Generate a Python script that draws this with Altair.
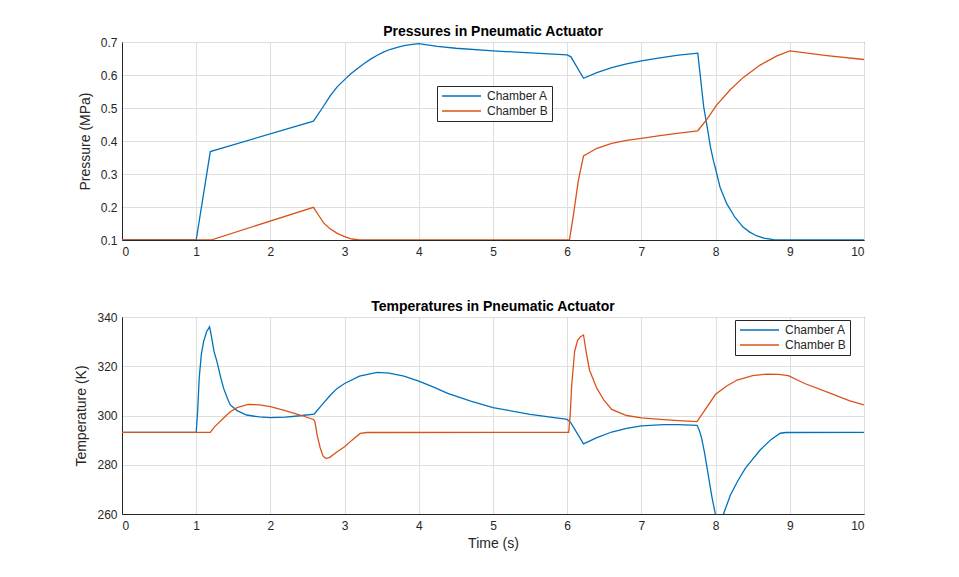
import altair as alt
import pandas as pd

# ---------------- data ----------------
series_names = ["Chamber A", "Chamber B"]

pa_t = [0, 1.0, 1.19, 2.58, 2.70, 2.81, 2.90, 3.0, 3.08, 3.17, 3.26, 3.35, 3.44, 3.53, 3.62,
        3.71, 3.80, 3.89, 4.0, 4.25, 4.5, 5.0, 5.5, 6.0, 6.05, 6.22, 6.4, 6.6, 6.8, 7.0, 7.25,
        7.5, 7.76, 7.79, 7.84, 7.89, 7.93, 7.97, 8.01, 8.06, 8.15, 8.26, 8.37, 8.46, 8.55, 8.65,
        8.78, 10]
pa_v = [0.1, 0.1, 0.368, 0.460, 0.500, 0.538, 0.564, 0.586, 0.603, 0.619, 0.634, 0.648, 0.660,
        0.670, 0.678, 0.684, 0.689, 0.692, 0.695, 0.687, 0.681, 0.673, 0.667, 0.661, 0.655,
        0.590, 0.607, 0.622, 0.634, 0.643, 0.652, 0.660, 0.666, 0.605, 0.503, 0.438, 0.382,
        0.341, 0.306, 0.260, 0.210, 0.169, 0.139, 0.124, 0.113, 0.106, 0.101, 0.1]

pb_t = [0, 1.2, 2.58, 2.65, 2.72, 2.8, 2.9, 3.0, 3.1, 3.2, 6.03, 6.08, 6.15, 6.22, 6.4, 6.6,
        6.8, 7.0, 7.25, 7.48, 7.76, 7.89, 8.01, 8.2, 8.37, 8.6, 8.82, 9.0, 9.5, 10]
pb_v = [0.1, 0.1, 0.199, 0.175, 0.151, 0.135, 0.120, 0.110, 0.103, 0.1, 0.1, 0.17, 0.28, 0.355,
        0.378, 0.393, 0.402, 0.408, 0.416, 0.423, 0.431, 0.468, 0.508, 0.556, 0.592, 0.630,
        0.657, 0.673, 0.659, 0.647]

ta_t = [0, 1.0, 1.02, 1.04, 1.07, 1.1, 1.14, 1.18, 1.2, 1.24, 1.28, 1.33, 1.37, 1.42, 1.46,
        1.55, 1.68, 1.85, 2.0, 2.2, 2.4, 2.59, 2.7, 2.81, 2.9, 3.0, 3.2, 3.44, 3.6, 3.8, 4.0,
        4.2, 4.39, 4.7, 5.0, 5.5, 6.0, 6.05, 6.22, 6.4, 6.6, 6.8, 7.0, 7.3, 7.5, 7.75, 7.78,
        7.81, 7.85, 7.9, 7.95, 8.0, 8.05, 8.1, 8.2, 8.3, 8.4, 8.47, 8.6, 8.75, 8.87, 8.95, 10]
ta_v = [293.15, 293.15, 302, 315, 325, 330, 334, 336, 333, 326, 321.9, 315.5, 311, 307, 304.3,
        302, 300.2, 299.4, 299.1, 299.3, 299.9, 300.6, 304.5, 308.3, 311, 313, 316, 317.5,
        317.2, 316, 314, 311.5, 309, 305.8, 303.2, 300.5, 298.4, 297, 288.5, 291, 293.3,
        294.8, 295.8, 296.3, 296.3, 296, 294, 291, 285, 276, 267, 259.5, 258.5, 259.5, 267.7,
        273.5, 278.5, 281.2, 286, 290.3, 292.8, 293.1, 293.15]

tb_t = [0, 1.19, 1.25, 1.37, 1.46, 1.55, 1.7, 1.85, 2.0, 2.2, 2.4, 2.58, 2.6, 2.63, 2.67, 2.71,
        2.75, 2.8, 2.9, 3.0, 3.1, 3.21, 3.3, 6.02, 6.04, 6.06, 6.1, 6.14, 6.18, 6.22, 6.26, 6.3,
        6.4, 6.5, 6.6, 6.8, 7.0, 7.3, 7.5, 7.75, 7.85, 8.0, 8.15, 8.29, 8.5, 8.69, 8.85, 8.98,
        9.2, 9.55, 9.8, 10]
tb_v = [293.15, 293.15, 295.5, 299, 301.5, 303.2, 304.5, 304.3, 303.6, 302, 300.2, 298.4,
        297.5, 292, 287, 283.5, 282.5, 283, 285.3, 287.3, 290, 292.7, 293.1, 293.15, 300, 312,
        326, 330.5, 332, 332.7, 325, 318.5, 311, 306, 302.5, 300, 299, 298.3, 297.9, 297.5,
        302, 308.6, 312, 314.4, 316.2, 316.8, 316.7, 316.2, 313, 309, 306, 304.3]

x_ticks = list(range(0, 11))
p_ticks = [0.1, 0.2, 0.3, 0.4, 0.5, 0.6, 0.7]
t_ticks = [260, 280, 300, 320, 340]


def long_df(ta, va, tb, vb, name):
    return pd.concat([
        pd.DataFrame({"t": ta, name: va, "series": series_names[0], "order": range(len(ta))}),
        pd.DataFrame({"t": tb, name: vb, "series": series_names[1], "order": range(len(tb))}),
    ])


pdf = long_df(pa_t, pa_v, pb_t, pb_v, "p")
tdf = long_df(ta_t, ta_v, tb_t, tb_v, "T")

FONT = "Liberation Sans"
color_scale = alt.Scale(domain=series_names, range=["#0072BD", "#D95319"])


def legend(x, y):
    return alt.Legend(title=None, orient="none", legendX=x, legendY=y,
                      fillColor="white", strokeColor="#262626", padding=4,
                      symbolType="M-3.9,0H3.9", symbolSize=100, symbolStrokeWidth=1.5,
                      symbolOffset=14.5, labelOffset=19.5,
                      labelFont=FONT, labelFontSize=12, labelColor="#262626",
                      rowPadding=3)


def xaxis(title):
    kw = dict(values=x_ticks, grid=True, ticks=False, labelPadding=6, format="d")
    if title:
        return alt.Axis(title=title, titlePadding=5, **kw)
    return alt.Axis(title=None, **kw)


def title(text):
    return alt.TitleParams(text, fontSize=14, fontWeight="bold", font=FONT, color="#000000",
                           offset=-3)


top = alt.Chart(pdf).mark_line(clip=True, strokeWidth=1.3).encode(
    x=alt.X("t:Q", scale=alt.Scale(domain=[0, 10], nice=False), axis=xaxis(None)),
    y=alt.Y("p:Q", scale=alt.Scale(domain=[0.1, 0.7], nice=False, zero=False),
            axis=alt.Axis(title="Pressure (MPa)", values=p_ticks, format=".1f", ticks=False,
                          labelPadding=5, titlePadding=8)),
    color=alt.Color("series:N", scale=color_scale, legend=legend(315, 44)),
    order="order:Q",
).properties(width=742, height=198, title=title("Pressures in Pneumatic Actuator"))

bottom = alt.Chart(tdf).mark_line(clip=True, strokeWidth=1.3).encode(
    x=alt.X("t:Q", scale=alt.Scale(domain=[0, 10], nice=False), axis=xaxis("Time (s)")),
    y=alt.Y("T:Q", scale=alt.Scale(domain=[260, 340], nice=False, zero=False),
            axis=alt.Axis(title="Temperature (K)", values=t_ticks, ticks=False,
                          labelPadding=5, titlePadding=8)),
    color=alt.Color("series:N", scale=color_scale, legend=legend(613, 3)),
    order="order:Q",
).properties(width=742, height=197, title=title("Temperatures in Pneumatic Actuator"))

chart = alt.vconcat(top, bottom, spacing=41).resolve_scale(color="independent").resolve_legend(
    color="independent"
).configure_view(stroke="#262626", strokeWidth=1).configure_axis(
    labelFont=FONT, labelFontSize=12, labelColor="#262626", titleFont=FONT, titleFontSize=14,
    titleFontWeight="normal", titleColor="#262626", gridColor="#dedede", domainColor="#262626",
).properties(padding={"left": 66, "top": 16, "right": 5, "bottom": 5})

chart.save("out.html", embed_options={"renderer": "svg", "actions": False})
